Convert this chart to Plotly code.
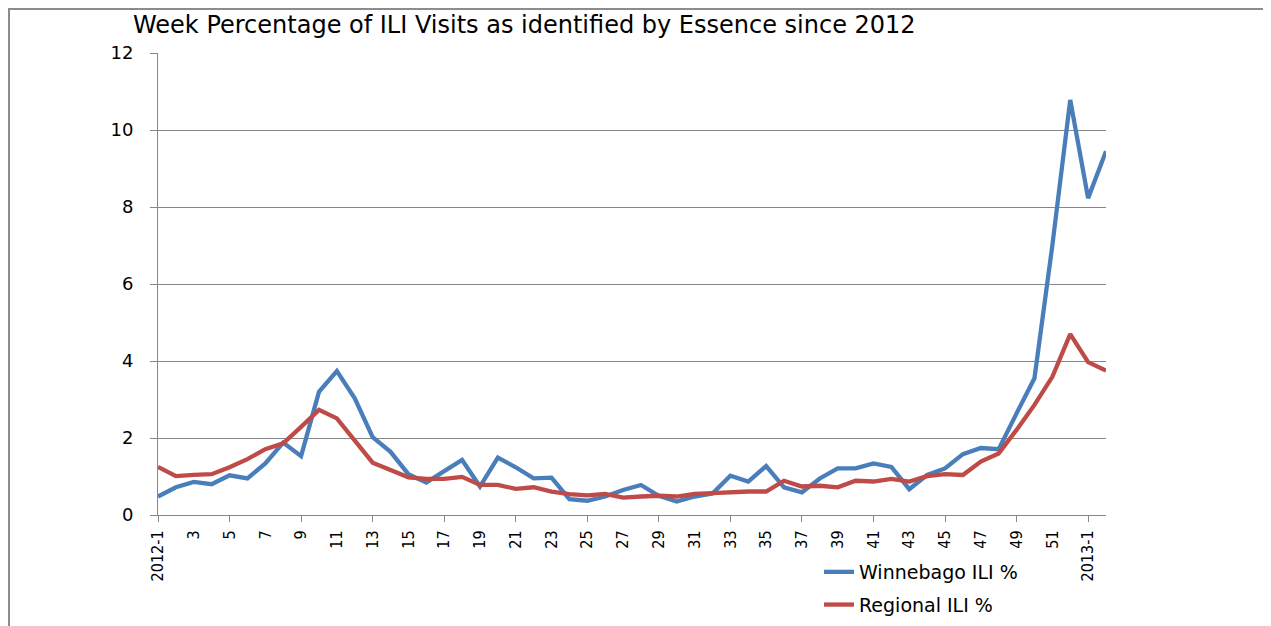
import plotly.graph_objects as go

weeks = ["2012-1"] + [str(i) for i in range(2, 53)] + ["2013-1", "2013-2"]

winnebago = [0.48, 0.72, 0.86, 0.80, 1.03, 0.95, 1.34, 1.88, 1.53, 3.20,
             3.74, 3.03, 2.02, 1.64, 1.06, 0.84, 1.14, 1.43, 0.74, 1.49,
             1.24, 0.95, 0.97, 0.41, 0.37, 0.48, 0.65, 0.78, 0.50, 0.35,
             0.48, 0.56, 1.02, 0.87, 1.27, 0.72, 0.59, 0.95, 1.21, 1.21,
             1.34, 1.25, 0.67, 1.04, 1.21, 1.58, 1.74, 1.71, 2.64, 3.55,
             7.00, 10.78, 8.23, 9.45]

regional = [1.25, 1.01, 1.04, 1.06, 1.24, 1.45, 1.71, 1.86, 2.29, 2.73,
            2.51, 1.93, 1.36, 1.17, 0.98, 0.94, 0.94, 0.99, 0.78, 0.78,
            0.68, 0.72, 0.61, 0.54, 0.51, 0.55, 0.45, 0.48, 0.50, 0.48,
            0.55, 0.57, 0.60, 0.61, 0.61, 0.89, 0.74, 0.76, 0.72, 0.89,
            0.87, 0.94, 0.87, 1.01, 1.06, 1.04, 1.39, 1.60, 2.21, 2.86,
            3.59, 4.70, 3.97, 3.75]

label_weeks = weeks[0:53:2]
tick_weeks = weeks[0:53:4]
y_ticks = [0, 2, 4, 6, 8, 10, 12]

title_text = "Week Percentage of ILI Visits as identified by Essence since 2012"
blue = "#4A7EBB"
red = "#BE4B48"
grid = "#878787"

# page body has an 8px margin; figure coordinates are offset by (8, 8) on screen
W, H = 1263, 650
L, T, R, B = 150, 45, 165, 143
PW, PH = W - L - R, H - T - B

fig = go.Figure()
fig.add_trace(go.Scatter(x=weeks, y=winnebago, mode="lines", name="Winnebago ILI %",
                         line=dict(color=blue, width=4.3), legendgroup="a"))
fig.add_trace(go.Scatter(x=weeks, y=regional, mode="lines", name="Regional ILI %",
                         line=dict(color=red, width=4.3), legendgroup="b", xaxis="x2"))

fig.update_layout(
    width=W, height=H,
    margin=dict(l=L, r=R, t=T, b=B),
    paper_bgcolor="white", plot_bgcolor="white",
    title=dict(text=title_text, x=125 / W, xanchor="left", y=1 - 17 / H, yanchor="middle",
               font=dict(family="DejaVu Sans", size=24, color="black")),
    xaxis=dict(type="category", range=[0, 53], tickmode="array", tickvals=label_weeks,
               ticktext=label_weeks, tickangle=-90, ticks="", showgrid=False,
               showline=True, linecolor=grid, linewidth=1, zeroline=False,
               ticklabelstandoff=8,
               tickfont=dict(family="DejaVu Sans Condensed, sans-serif",
                             size=16, color="black")),
    xaxis2=dict(type="category", overlaying="x", matches="x", anchor="y", side="bottom",
                tickmode="array", tickvals=tick_weeks, ticks="outside", ticklen=6,
                tickcolor=grid, tickwidth=1, showticklabels=False, showgrid=False,
                showline=False, zeroline=False),
    yaxis=dict(range=[0, 12], tickvals=y_ticks, ticks="outside", ticklen=7, tickcolor=grid,
               showgrid=True, gridcolor=grid, gridwidth=1, showline=True, linecolor=grid,
               linewidth=1, zeroline=False, ticklabelstandoff=13,
               tickfont=dict(family="DejaVu Sans", size=18, color="black")),
    legend=dict(x=(811 - L) / PW, xanchor="left",
                y=(PH + T - 545) / PH, yanchor="top",
                orientation="v", tracegroupgap=5, bgcolor="rgba(0,0,0,0)",
                font=dict(family="DejaVu Sans", size=19, color="black")),
    shapes=[dict(type="rect", xref="paper", yref="paper",
                 x0=(1 - L) / PW, x1=(1261 - L) / PW,
                 y0=(PH + T - 649) / PH, y1=(PH + T - 1) / PH,
                 line=dict(color="#8c8c8c", width=2), fillcolor="rgba(0,0,0,0)", layer="below")],
    showlegend=True,
)

fig.write_html("out.html")
